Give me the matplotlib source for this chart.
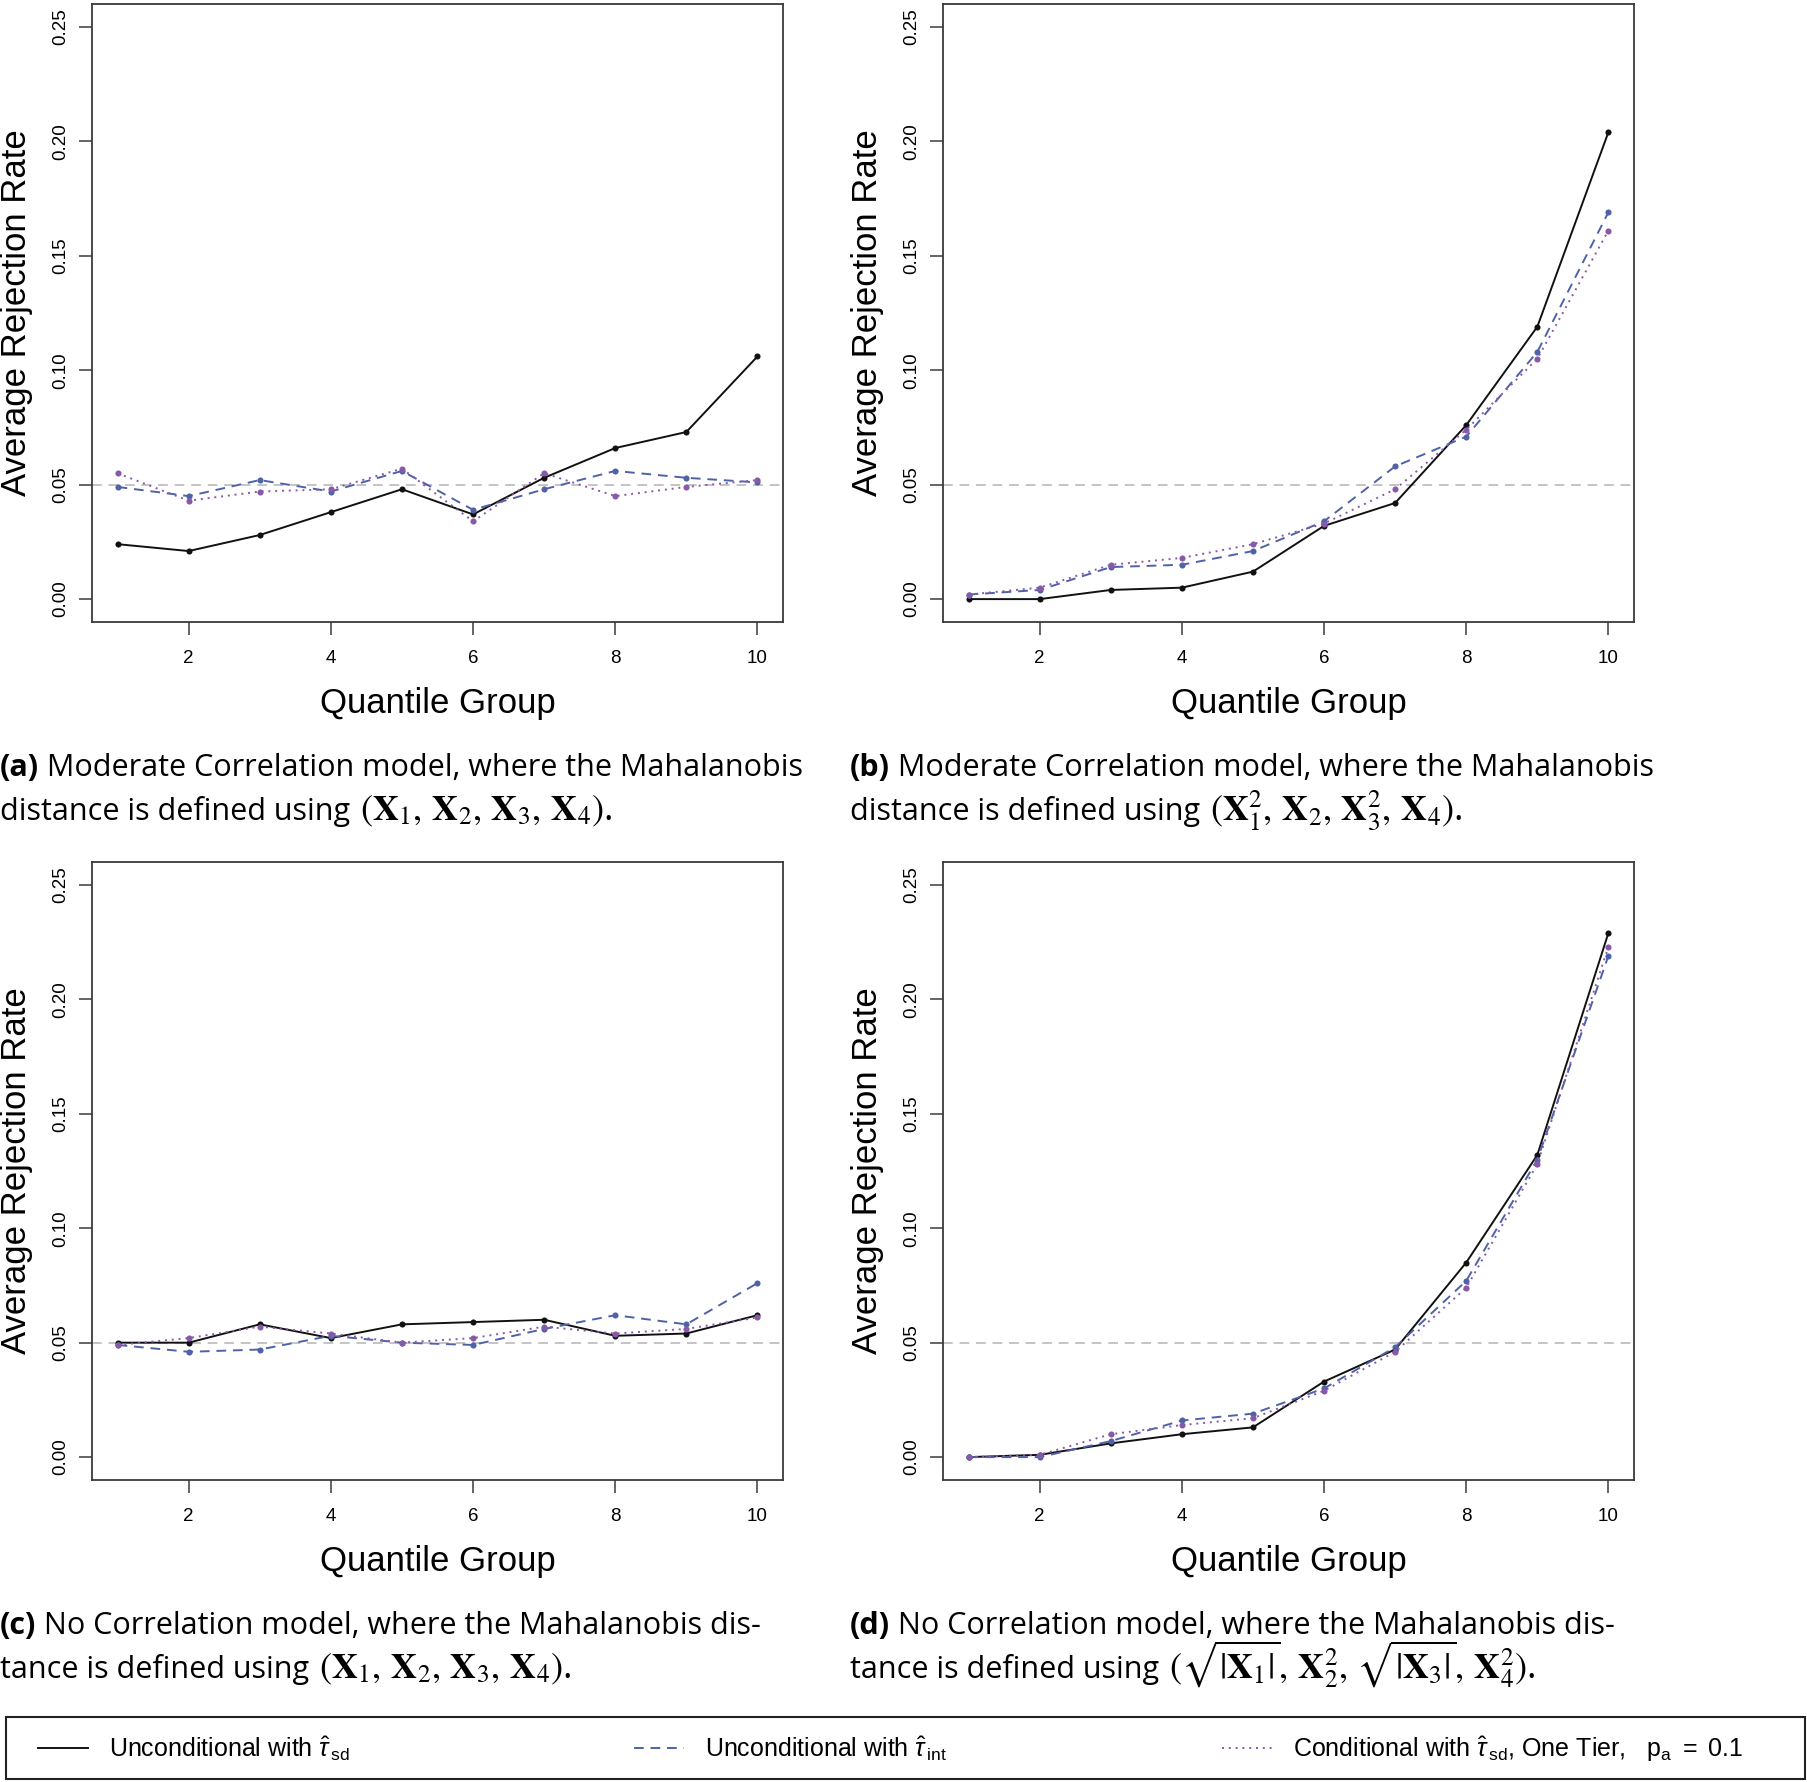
import numpy as np
import matplotlib
matplotlib.use("Agg")
import matplotlib.pyplot as plt
from matplotlib.lines import Line2D
from matplotlib.patches import Rectangle

# quantile groups on the x axis
groups = np.arange(1, 11)

# (a) moderate correlation, (X1, X2, X3, X4)
a_uncond_sd = [0.024, 0.021, 0.028, 0.038, 0.048, 0.037, 0.053, 0.066, 0.073, 0.106]
a_uncond_int = [0.049, 0.045, 0.052, 0.047, 0.056, 0.039, 0.048, 0.056, 0.053, 0.051]
a_cond_sd = [0.055, 0.043, 0.047, 0.048, 0.057, 0.034, 0.055, 0.045, 0.049, 0.052]

# (b) moderate correlation, (X1^2, X2, X3^2, X4)
b_uncond_sd = [0.000, 0.000, 0.004, 0.005, 0.012, 0.032, 0.042, 0.076, 0.119, 0.204]
b_uncond_int = [0.002, 0.004, 0.014, 0.015, 0.021, 0.034, 0.058, 0.071, 0.108, 0.169]
b_cond_sd = [0.002, 0.005, 0.015, 0.018, 0.024, 0.033, 0.048, 0.074, 0.105, 0.161]

# (c) no correlation, (X1, X2, X3, X4)
c_uncond_sd = [0.050, 0.050, 0.058, 0.052, 0.058, 0.059, 0.060, 0.053, 0.054, 0.062]
c_uncond_int = [0.049, 0.046, 0.047, 0.053, 0.050, 0.049, 0.056, 0.062, 0.058, 0.076]
c_cond_sd = [0.049, 0.052, 0.057, 0.054, 0.050, 0.052, 0.057, 0.054, 0.056, 0.061]

# (d) no correlation, (sqrt|X1|, X2^2, sqrt|X3|, X4^2)
d_uncond_sd = [0.000, 0.001, 0.006, 0.010, 0.013, 0.033, 0.047, 0.085, 0.132, 0.229]
d_uncond_int = [0.000, 0.000, 0.007, 0.016, 0.019, 0.030, 0.048, 0.077, 0.130, 0.219]
d_cond_sd = [0.000, 0.001, 0.010, 0.014, 0.017, 0.029, 0.046, 0.074, 0.128, 0.223]

nominal = 0.05
yticks = [0.00, 0.05, 0.10, 0.15, 0.20, 0.25]
ytick_labels = ["0.00", "0.05", "0.10", "0.15", "0.20", "0.25"]
xticks = [2, 4, 6, 8, 10]

legend_labels = [r"Unconditional with $\hat{\tau}_{\,\mathrm{sd}}$",
                 r"Unconditional with $\hat{\tau}_{\,\mathrm{int}}$",
                 r"Conditional with $\hat{\tau}_{\,\mathrm{sd}}$, One Tier,   $\mathrm{p_a}\ =\ 0.1$"]

# caption pieces: bold tag, rest of line 1, plain start of line 2, math part
captions = [
    ("(a)", " Moderate Correlation model, where the Mahalanobis",
     "distance is defined using ",
     r"$(\mathbf{X}_1,\, \mathbf{X}_2,\, \mathbf{X}_3,\, \mathbf{X}_4)$."),
    ("(b)", " Moderate Correlation model, where the Mahalanobis",
     "distance is defined using ",
     r"$(\mathbf{X}_1^2,\, \mathbf{X}_2,\, \mathbf{X}_3^2,\, \mathbf{X}_4)$."),
    ("(c)", " No Correlation model, where the Mahalanobis dis-",
     "tance is defined using ",
     r"$(\mathbf{X}_1,\, \mathbf{X}_2,\, \mathbf{X}_3,\, \mathbf{X}_4)$."),
    ("(d)", " No Correlation model, where the Mahalanobis dis-",
     "tance is defined using ",
     r"$(\sqrt{|\mathbf{X}_1|},\, \mathbf{X}_2^2,\, \sqrt{|\mathbf{X}_3|},\, \mathbf{X}_4^2)$."),
]

panels = [
    (a_uncond_sd, a_uncond_int, a_cond_sd),
    (b_uncond_sd, b_uncond_int, b_cond_sd),
    (c_uncond_sd, c_uncond_int, c_cond_sd),
    (d_uncond_sd, d_uncond_int, d_cond_sd),
]

plt.rcParams['font.family'] = ['Liberation Sans', 'DejaVu Sans']
plt.rcParams['mathtext.fontset'] = 'custom'
plt.rcParams['mathtext.rm'] = 'Liberation Sans'
plt.rcParams['mathtext.it'] = 'Liberation Sans:italic'
plt.rcParams['mathtext.bf'] = 'Liberation Sans:bold'

W, H = 1808, 1782
fig = plt.figure(figsize=(W / 100, H / 100), dpi=100)


def box(x0, y0, x1, y1):
    # pixel box (top-left origin) -> figure fraction rect
    return [x0 / W, 1 - y1 / H, (x1 - x0) / W, (y1 - y0) / H]


BLACK = "#111111"
BLUE = "#4f62a8"
PURPLE = "#8759a8"
FRAME = "#3a3a3a"
CAP_FONT = "Open Sans"
CAP_SIZE = 22

styles = [
    dict(color=BLACK, linestyle="-"),
    dict(color=BLUE, linestyle=(0, (5, 3.5))),
    dict(color=PURPLE, linestyle=(0, (1, 2.5))),
]

col_x = [92, 943]
row_y = [4, 862]
cap_x = [0, 850]
cap_base = [776, 1634]

first_parts = []
for i, series in enumerate(panels):
    r, c = divmod(i, 2)
    x0, y0 = col_x[c], row_y[r]
    ax = fig.add_axes(box(x0, y0, x0 + 691, y0 + 618))
    ax.axhline(nominal, color="#c4c4c4", lw=1.4, linestyle=(0, (5, 3.5)), zorder=1)
    for vals, st in zip(series, styles):
        ax.plot(groups, vals, lw=1.4, marker="o", markersize=4.4,
                markeredgewidth=0, zorder=3, **st)
    ax.set_xlim(1 - 0.36, 10 + 0.36)
    ax.set_ylim(-0.01, 0.26)
    ax.set_xticks(xticks)
    ax.set_yticks(yticks)
    ax.set_yticklabels(ytick_labels, rotation=90, va="center")
    ax.tick_params(axis="both", length=9.4, width=1.1, color=FRAME, labelsize=13.5)
    ax.tick_params(axis="x", pad=11)
    ax.tick_params(axis="y", pad=7)
    for sp in ax.spines.values():
        sp.set_color(FRAME)
        sp.set_linewidth(1.3)
    fig.text((x0 - 75) / W, 1 - (y0 + 309) / H, "Average Rejection Rate",
             rotation=90, ha="center", va="center", fontsize=25)
    fig.text((x0 + 345.5) / W, 1 - (y0 + 700) / H, "Quantile Group",
             ha="center", va="center", fontsize=25)

    tag, line1, line2, math2 = captions[i]
    y1 = 1 - cap_base[r] / H
    y2 = 1 - (cap_base[r] + 44) / H
    t_tag = fig.text(cap_x[c] / W, y1, tag, fontfamily=CAP_FONT, fontweight="bold",
                     fontsize=CAP_SIZE, va="baseline", ha="left")
    t_l2 = fig.text(cap_x[c] / W, y2, line2, fontfamily=CAP_FONT,
                    fontsize=CAP_SIZE, va="baseline", ha="left")
    first_parts.append((t_tag, line1, y1, t_l2, math2, y2))

# place the rest of each caption right after the measured first pieces
fig.canvas.draw()
rend = fig.canvas.get_renderer()
for t_tag, line1, y1, t_l2, math2, y2 in first_parts:
    bb = t_tag.get_window_extent(rend)
    fig.text(bb.x1 / W, y1, line1, fontfamily=CAP_FONT, fontsize=CAP_SIZE,
             va="baseline", ha="left")
    bb = t_l2.get_window_extent(rend)
    fig.text((bb.x1 + 2) / W, y2, math2, fontfamily=CAP_FONT, fontsize=26,
             va="baseline", ha="left", math_fontfamily="stix")

# legend: one outer frame, three entries laid out in a row
fig.add_artist(Rectangle((6 / W, 1 - 1779 / H), 1799 / W, 62 / H,
                         transform=fig.transFigure, fill=False,
                         lw=1.5, ec="#222222"))
entry_x = [38, 634, 1222]
for st, lab, ex in zip(styles, legend_labels, entry_x):
    fig.legend([Line2D([], [], lw=1.4, **st)], [lab], loc="center left",
               bbox_to_anchor=(ex / W, 1 - 1749 / H), fontsize=18,
               frameon=False, handlelength=2.0, handletextpad=0.85,
               borderpad=0, borderaxespad=0)

fig.savefig("out.png", dpi=100, facecolor="white")
